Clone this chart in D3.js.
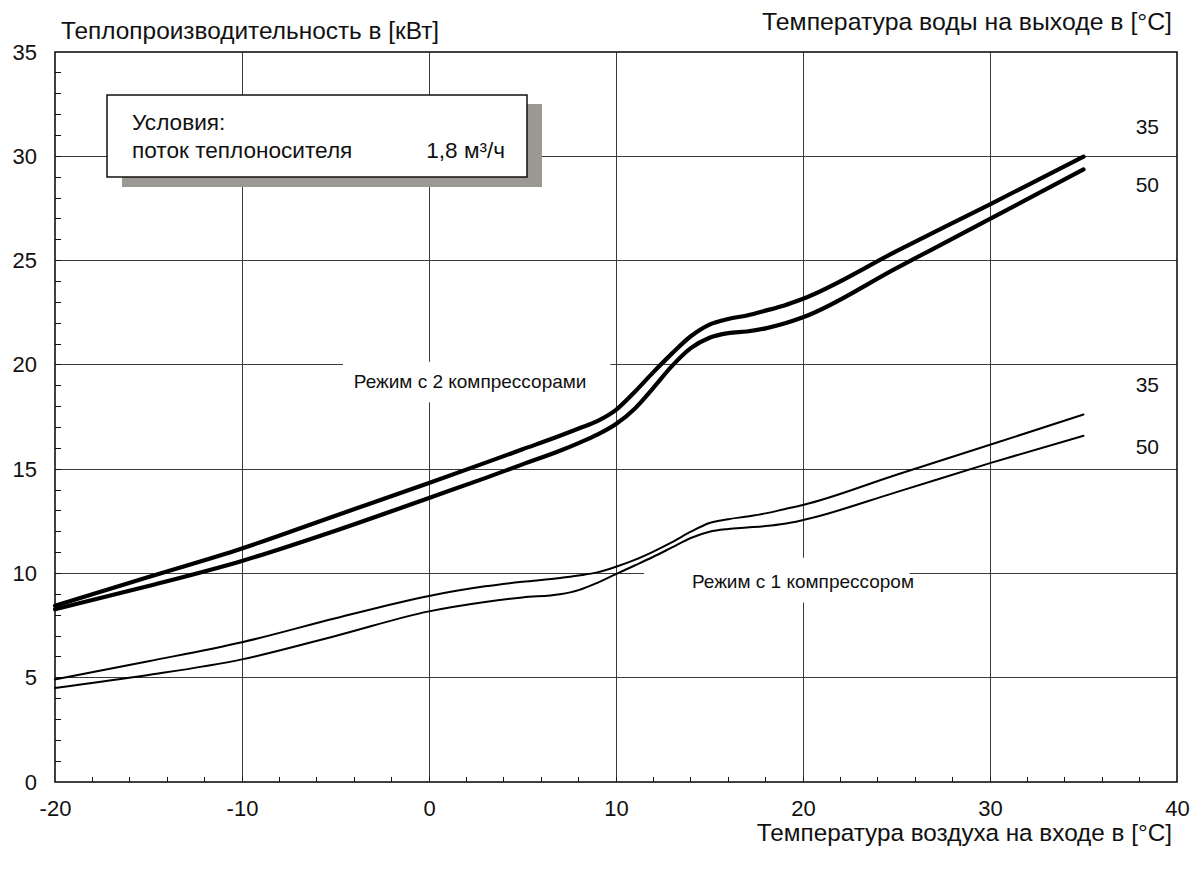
<!DOCTYPE html>
<html>
<head>
<meta charset="utf-8">
<script src="https://cdn.jsdelivr.net/npm/d3@7/dist/d3.min.js"></script>
<style>
  html, body { margin: 0; padding: 0; background: #fff; }
  svg { display: block; }
  text { font-family: "Liberation Sans", Arial, sans-serif; fill: #111; }
</style>
</head>
<body>
<svg id="chart" width="1194" height="871"></svg>
<script>
// ---------- data ----------
const airTemp    = [-20, -15, -10, -5, 0, 3, 5, 7, 8, 9, 10, 11, 12, 13, 14, 15, 16, 17, 18, 19, 20, 25, 30, 35];
const twoComp35  = [8.45, 9.83, 11.2, 12.77, 14.34, 15.3, 15.95, 16.6, 16.95, 17.3, 17.84, 18.7, 19.65, 20.55, 21.37, 21.93, 22.2, 22.37, 22.6, 22.85, 23.17, 25.45, 27.7, 29.98];
const twoComp50  = [8.28, 9.4, 10.6, 12.05, 13.62, 14.57, 15.23, 15.88, 16.25, 16.65, 17.16, 17.9, 18.9, 19.95, 20.8, 21.3, 21.52, 21.6, 21.75, 21.98, 22.28, 24.64, 27.0, 29.37];
const oneComp35  = [4.92, 5.79, 6.70, 7.85, 8.92, 9.38, 9.6, 9.78, 9.9, 10.05, 10.32, 10.65, 11.05, 11.5, 12.0, 12.42, 12.6, 12.73, 12.88, 13.08, 13.28, 14.73, 16.17, 17.62];
const oneComp50  = [4.51, 5.13, 5.88, 7.0, 8.18, 8.63, 8.85, 9.0, 9.2, 9.55, 9.97, 10.38, 10.8, 11.25, 11.7, 12.0, 12.13, 12.2, 12.27, 12.38, 12.56, 13.9, 15.29, 16.6];

const xTickValues = [-20, -10, 0, 10, 20, 30, 40];
const yTickValues = [0, 5, 10, 15, 20, 25, 30, 35];
const seriesNames = ["35", "50", "35", "50"];

const yTitle = "Теплопроизводительность в [кВт]";
const xTitle = "Температура воздуха на входе в [°C]";
const seriesTitle = "Температура воды на выходе в [°C]";
const modeTwo = "Режим с 2 компрессорами";
const modeOne = "Режим с 1 компрессором";
const legendTitle = "Условия:";
const legendKey = "поток теплоносителя";
const legendValue = "1,8 м³/ч";

// ---------- layout ----------
const svg = d3.select("#chart");
const L = 55, R = 1177, T = 52, B = 782;
const x = d3.scaleLinear().domain([-20, 40]).range([L, R]);
const y = d3.scaleLinear().domain([0, 35]).range([B, T]);
const FONT = "Liberation Sans, Arial, sans-serif";

// gridlines
const grid = svg.append("g").attr("stroke", "#3a3a3a").attr("stroke-width", 1).attr("shape-rendering", "crispEdges");
grid.selectAll(".vg").data(xTickValues.filter(v => v > -20 && v < 40)).join("line")
  .attr("x1", d => x(d)).attr("x2", d => x(d)).attr("y1", T).attr("y2", B);
grid.selectAll(".hg").data(yTickValues.filter(v => v > 0 && v < 35)).join("line")
  .attr("x1", L).attr("x2", R).attr("y1", d => y(d)).attr("y2", d => y(d));

// minor ticks (inside)
const xMinor = d3.range(-18, 40, 2);
const yMinor = d3.range(1, 35, 1);
const ticks = svg.append("g").attr("stroke", "#111").attr("stroke-width", 1).attr("shape-rendering", "crispEdges");
ticks.selectAll(".xm").data(xMinor).join("line")
  .attr("x1", d => x(d)).attr("x2", d => x(d)).attr("y1", B).attr("y2", B - 5);
ticks.selectAll(".ym").data(yMinor).join("line")
  .attr("x1", L).attr("x2", L + 6).attr("y1", d => y(d)).attr("y2", d => y(d));

// axes via d3 axis (labels only, frame drawn separately)
const fmt = d => String(d);
const xAxis = svg.append("g").attr("transform", `translate(0,${B})`)
  .call(d3.axisBottom(x).tickValues(xTickValues).tickSize(0).tickPadding(18).tickFormat(fmt));
xAxis.select(".domain").remove();
xAxis.selectAll("text").attr("font-size", 22).attr("font-family", FONT).attr("fill", "#111");

const yAxis = svg.append("g").attr("transform", `translate(${L},0)`)
  .call(d3.axisLeft(y).tickValues(yTickValues).tickSize(0).tickPadding(18).tickFormat(fmt));
yAxis.select(".domain").remove();
yAxis.selectAll("text").attr("font-size", 22).attr("font-family", FONT).attr("fill", "#111");

// frame
svg.append("rect").attr("x", L).attr("y", T).attr("width", R - L).attr("height", B - T)
  .attr("fill", "none").attr("stroke", "#111").attr("stroke-width", 1.6);

// mode labels with white background
function modeLabel(text, cx, cy, bx0, bx1, by0, by1) {
  svg.append("rect").attr("x", bx0).attr("y", by0).attr("width", bx1 - bx0).attr("height", by1 - by0).attr("fill", "#fff");
  svg.append("text").attr("x", cx).attr("y", cy).attr("dy", "0.35em").attr("text-anchor", "middle")
    .attr("font-size", 19).text(text);
}
modeLabel(modeTwo, x(2.2), y(19.2), x(-4.6), x(9.7), y(20.15), y(18.2));
modeLabel(modeOne, x(20.0), y(9.6), x(11.5), x(25.7), y(10.75), y(8.6));

// curves
const line = d3.line().x(d => x(d[0])).y(d => y(d[1])).curve(d3.curveMonotoneX);
const series = [
  { v: twoComp35, w: 4.2 },
  { v: twoComp50, w: 4.2 },
  { v: oneComp35, w: 2.0 },
  { v: oneComp50, w: 2.0 }
];
svg.append("g").selectAll("path").data(series).join("path")
  .attr("d", s => line(airTemp.map((t, i) => [t, s.v[i]])))
  .attr("fill", "none").attr("stroke", "#000").attr("stroke-width", s => s.w)
  .attr("stroke-linecap", "round").attr("stroke-linejoin", "round");

// series end labels
const labelY = [31.4, 28.65, 19.05, 16.1];
svg.append("g").selectAll("text").data(seriesNames).join("text")
  .attr("x", 1159).attr("y", (d, i) => y(labelY[i])).attr("dy", "0.35em")
  .attr("text-anchor", "end").attr("font-size", 21).text(d => d);

// titles
svg.append("text").attr("x", 61).attr("y", 39).attr("font-size", 24.4).text(yTitle);
svg.append("text").attr("x", 1172).attr("y", 30).attr("text-anchor", "end").attr("font-size", 24.8).text(seriesTitle);
svg.append("text").attr("x", 1172).attr("y", 841).attr("text-anchor", "end").attr("font-size", 24.3).text(xTitle);

// legend box with shadow
const lg = svg.append("g");
lg.append("rect").attr("x", 122).attr("y", 104).attr("width", 420).attr("height", 83).attr("fill", "#9c9893");
lg.append("rect").attr("x", 107).attr("y", 95).attr("width", 420).attr("height", 82)
  .attr("fill", "#fff").attr("stroke", "#111").attr("stroke-width", 1.5);
lg.append("text").attr("x", 132).attr("y", 130).attr("font-size", 22.6).text(legendTitle);
lg.append("text").attr("x", 132).attr("y", 158).attr("font-size", 22.6).text(legendKey);
lg.append("text").attr("x", 505).attr("y", 158).attr("text-anchor", "end").attr("font-size", 22.6).text(legendValue);
</script>
</body>
</html>
